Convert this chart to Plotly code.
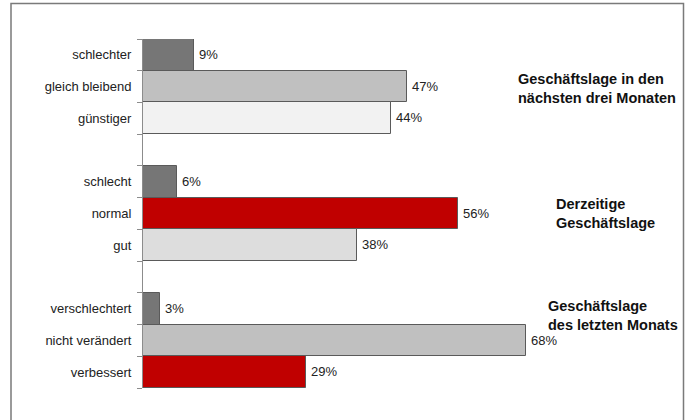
import plotly.graph_objects as go

# Data
groups = ["Geschäftslage in den<br>nächsten drei Monaten",
          "Derzeitige<br>Geschäftslage",
          "Geschäftslage<br>des letzten Monats"]
cats_1 = ["schlechter", "gleich bleibend", "günstiger"]
vals_1 = [9, 47, 44]
cats_2 = ["schlecht", "normal", "gut"]
vals_2 = [6, 56, 38]
cats_3 = ["verschlechtert", "nicht verändert", "verbessert"]
vals_3 = [3, 68, 29]

colors_1 = ["#767676", "#C0C0C0", "#F2F2F2"]
colors_2 = ["#767676", "#C00000", "#DDDDDD"]
colors_3 = ["#767676", "#C0C0C0", "#C00000"]

gap_labels = [" ", "  "]

# Build category order (top to bottom) with empty gap slots
order = cats_1 + [gap_labels[0]] + cats_2 + [gap_labels[1]] + cats_3
cats = cats_1 + cats_2 + cats_3
vals = vals_1 + vals_2 + vals_3
cols = colors_1 + colors_2 + colors_3

fig = go.Figure()
fig.add_trace(go.Bar(
    y=cats, x=vals, orientation="h",
    marker=dict(color=cols, line=dict(color="#5a5a5a", width=1)),
    text=[f"\u2009{v}%" for v in vals], textposition="outside",
    textfont=dict(family="Liberation Sans, Arial", size=13, color="#222222"),
    cliponaxis=False, width=1.0, hoverinfo="skip",
))

W, H = 690, 420
L, R, T, B = 143, 683, 39, 388
pw, ph = R - L, B - T

fig.update_layout(
    width=W, height=H,
    margin=dict(l=L, r=W - R, t=T, b=H - B, pad=0),
    paper_bgcolor="white", plot_bgcolor="white",
    showlegend=False, bargap=0,
    font=dict(family="Liberation Sans, Arial", size=13, color="#222222"),
    xaxis=dict(range=[0, 96], showgrid=False, zeroline=False,
               showticklabels=False, ticks="", showline=False, fixedrange=True),
    yaxis=dict(type="category", categoryorder="array", categoryarray=order[::-1],
               autorange=False, range=[-0.5, len(order) - 0.5],
               showline=True, linecolor="#8c8c8c", linewidth=1,
               ticks="outside", tickson="boundaries", ticklen=5, tickcolor="#8c8c8c",
               showgrid=False, zeroline=False, ticklabelstandoff=8,
               tickfont=dict(family="Liberation Sans, Arial", size=13, color="#222222")),
)

# Frame (left, top, right edges)
fx0, fx1 = (11 - L) / pw, (683.5 - L) / pw
fy0, fy1 = (B - 440) / ph, (B - 3.5) / ph
fig.add_shape(type="rect", xref="paper", yref="paper", x0=fx0, y0=fy0, x1=fx1, y1=fy1,
              line=dict(color="#7a7a7a", width=1.5), fillcolor="rgba(0,0,0,0)", layer="above")

# Group titles
title_pos = [(516, 88), (554, 213), (546, 315)]
for g, (px, py) in zip(groups, title_pos):
    fig.add_annotation(text=f"<b>{g}</b>", xref="paper", yref="paper",
                       x=(px - L) / pw, y=(B - py) / ph, xanchor="left", yanchor="middle",
                       align="left", showarrow=False,
                       font=dict(family="Liberation Sans, Arial", size=14.5, color="#111111"))

fig.write_html("out.html")
